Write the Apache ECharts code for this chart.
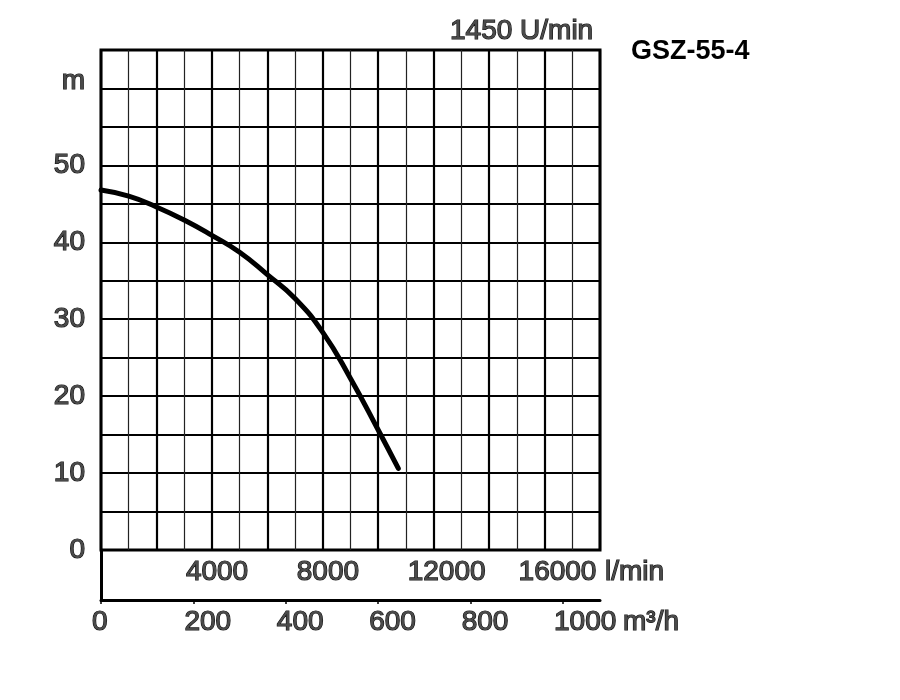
<!DOCTYPE html>
<html>
  <head>
    <meta charset="utf-8">
    <title>GSZ-55-4</title>
    <script src="https://cdn.jsdelivr.net/npm/echarts@6/dist/echarts.min.js"></script>
    <style>
      html, body { margin: 0; padding: 0; background: #fff; }
      #main { width: 900px; height: 700px; }
    </style>
  </head>
  <body>
    <div id="main"></div>
    <script type="text/javascript">
      // Kennlinie (Förderstrom in l/min, Förderhöhe in m)
      const flowLpm = [0, 1000, 2000, 3000, 4000, 5000, 6000, 7000, 8000, 9000, 10000, 10725];
      const headM = [46.8, 46.0, 44.6, 42.9, 40.9, 38.7, 35.8, 32.7, 28.3, 22.3, 15.6, 10.6];

      // Achsen
      const lpmMax = 18000;
      const mhMax = lpmMax * 60 / 1000; // 1080 m³/h
      const headMax = 65;
      const lpmLabels = [4000, 8000, 12000, 16000];
      const mhLabels = [0, 200, 400, 600, 800, 1000];

      const font = "'Liberation Sans', Arial, sans-serif";
      const txt = {
        fontFamily: font,
        fontSize: 28,
        color: '#4a4a4a',
        textBorderColor: '#111',
        textBorderWidth: 1.2
      };
      const plain = function (v) { return String(v); };

      const curve = flowLpm.map((q, i) => [q, headM[i]]);

      var myChart = echarts.init(document.getElementById('main'));

      var option = {
        animation: false,
        backgroundColor: '#fff',
        title: [
          {
            text: '1450 U/min',
            left: 450, top: 17, padding: 0,
            textStyle: Object.assign({}, txt, { fontWeight: 'normal' })
          },
          {
            text: 'GSZ-55-4',
            left: 631, top: 38, padding: 0,
            textStyle: { fontFamily: font, fontSize: 27, fontWeight: 'bold', color: '#000' }
          }
        ],
        grid: [
          // Diagramm
          { left: 101, top: 50, width: 499, height: 500, show: true, borderColor: '#000', borderWidth: 3 },
          // Streifen unter dem Diagramm
          { left: 101, top: 550, width: 499, height: 50 },
          // nur Beschriftung m³/h
          { left: 92, top: 550, width: 499, height: 50 },
          // nur Beschriftung l/min
          { left: 75, top: 500, width: 499, height: 50 }
        ],
        xAxis: [
          {
            gridIndex: 0, type: 'value', min: 0, max: lpmMax, interval: 2000,
            axisLine: { show: false }, axisTick: { show: false }, axisLabel: { show: false },
            splitLine: { show: true, lineStyle: { color: '#000', width: 2.2 } },
            minorTick: { show: false, splitNumber: 2 },
            minorSplitLine: { show: true, lineStyle: { color: '#222', width: 1.2 } }
          },
          {
            gridIndex: 1, type: 'value', min: 0, max: mhMax, position: 'bottom',
            axisLine: { show: true, lineStyle: { color: '#000', width: 3 } },
            axisTick: { show: true, length: 4, customValues: mhLabels, lineStyle: { color: '#000', width: 1.5 } },
            axisLabel: { show: false },
            splitLine: { show: false }
          },
          {
            gridIndex: 2, type: 'value', min: 0, max: mhMax, position: 'bottom',
            axisLine: { show: false }, axisTick: { show: false }, splitLine: { show: false },
            axisLabel: Object.assign({ show: true, customValues: mhLabels, align: 'left', margin: 8, formatter: plain }, txt),
            name: 'm³/h', nameLocation: 'end', nameGap: 32,
            nameTextStyle: Object.assign({ align: 'left', verticalAlign: 'top', padding: [8, 0, 0, 0] }, txt)
          },
          {
            gridIndex: 3, type: 'value', min: 0, max: lpmMax, position: 'bottom',
            axisLine: { show: false }, axisTick: { show: false }, splitLine: { show: false },
            axisLabel: Object.assign({ show: true, customValues: lpmLabels, align: 'left', margin: 8, formatter: plain }, txt),
            name: 'l/min', nameLocation: 'end', nameGap: 31,
            nameTextStyle: Object.assign({ align: 'left', verticalAlign: 'top', padding: [8, 0, 0, 0] }, txt)
          }
        ],
        yAxis: [
          {
            gridIndex: 0, type: 'value', min: 0, max: headMax, interval: 5,
            axisLine: { show: false }, axisTick: { show: false },
            splitLine: { show: true, lineStyle: { color: '#000', width: 1.8 } },
            axisLabel: Object.assign({
              show: true, margin: 16,
              formatter: function (v) {
                if (v === 60) return '{m|m}';
                return v % 10 === 0 ? String(v) : '';
              },
              rich: { m: Object.assign({ padding: [0, 0, 14, 0] }, txt) }
            }, txt)
          },
          {
            gridIndex: 1, type: 'value', min: 0, max: 1, position: 'left',
            axisLine: { show: true, lineStyle: { color: '#000', width: 3 } },
            axisTick: { show: false }, axisLabel: { show: false }, splitLine: { show: false }
          },
          { gridIndex: 2, type: 'value', show: false },
          { gridIndex: 3, type: 'value', show: false }
        ],
        series: [
          {
            name: 'H',
            type: 'line',
            xAxisIndex: 0,
            yAxisIndex: 0,
            data: curve,
            smooth: 0.5,
            showSymbol: false,
            lineStyle: { color: '#000', width: 5, cap: 'round' },
            z: 5
          }
        ]
      };

      myChart.setOption(option);
    </script>
  </body>
</html>
